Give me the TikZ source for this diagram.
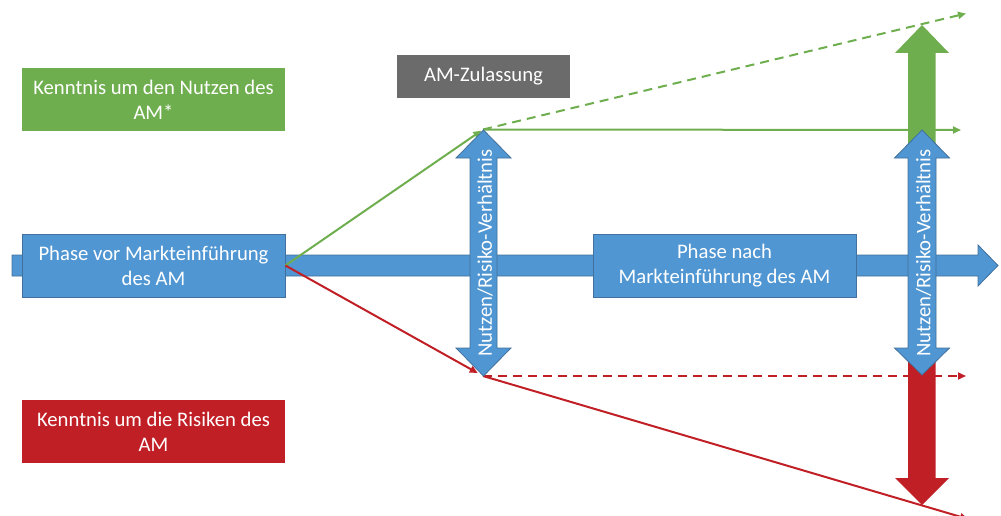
\documentclass[tikz,border=0pt]{standalone}
\usepackage{fontspec}
\setmainfont{Carlito}
\usetikzlibrary{arrows.meta}
\definecolor{bblue}{HTML}{5096D2}
\definecolor{bborder}{HTML}{41719C}
\definecolor{ggreen}{HTML}{6FAE4F}
\definecolor{rred}{HTML}{C11F26}
\definecolor{ggray}{HTML}{6B6B6B}
\tikzset{
  lbl/.style={text=white, align=center, font=\fontsize{20.7}{25}\selectfont, inner sep=0pt},
  box/.style={lbl, minimum width=263pt, minimum height=63pt},
  bluebox/.style={box, fill=bblue, draw=bborder, line width=0.8pt},
  bigarrow/.style={fill=bblue, draw=bborder, line width=0.8pt},
  conn/.style={line width=2pt, -{Triangle[length=8pt,width=7pt]}},
  dashconn/.style={conn, dash pattern=on 9pt off 6pt},
}
\begin{document}
\begin{tikzpicture}[x=1pt,y=-1pt]
\useasboundingbox (0,0) rectangle (1001,516);
% main horizontal arrow
\draw[bigarrow] (12,255) -- (978,255) -- (978,245) -- (998,265.5) -- (978,286) -- (978,276) -- (12,276) -- cycle;
% boxes
\node[bluebox] (vor) at (153.5,265.5) {Phase vor Markteinführung\\des AM};
\node[bluebox] (nach) at (724.5,265.5) {Phase nach\\Markteinführung des AM};
\node[box, fill=ggreen] (nutzen) at (153.5,99.5) {Kenntnis um den Nutzen des\\AM*};
\node[box, fill=rred] (risiken) at (153.5,431.5) {Kenntnis um die Risiken des\\AM};
\node[lbl, fill=ggray, minimum width=173pt, minimum height=43pt] (zul) at (483.5,76.5) {AM-Zulassung};
% key points
\coordinate (gtip) at (483,129.5);
\coordinate (rtip) at (483,376);
\coordinate (gend) at (961,130);
\coordinate (gdash) at (966,13.5);
\coordinate (rdash) at (966,376);
\coordinate (rend) at (968,519);
% right green / red thick arrows
\fill[ggreen] (908,145) -- (908,53) -- (895,53) -- (922,25) -- (949,53) -- (935.5,53) -- (935.5,145) -- cycle;
\fill[rred] (908,358) -- (908,478) -- (895,478) -- (922,505) -- (949,478) -- (935.5,478) -- (935.5,358) -- cycle;
% connectors
\draw[conn, ggreen, shorten >=2pt] (vor.east) -- (gtip);
\draw[conn, rred, shorten >=6pt] (vor.east) -- (rtip);
\draw[conn, ggreen] (gtip) -- (gend);
\draw[dashconn, ggreen] (gtip) -- (gdash);
\draw[dashconn, rred] (rtip) -- (rdash);
\draw[conn, rred] (rtip) -- (rend);
% blue vertical double arrows
\draw[bigarrow] (470,158) -- (456,158) -- (483.5,130) -- (511,158) -- (497,158) -- (497,348) -- (511,348) -- (483.5,376) -- (456,348) -- (470,348) -- cycle;
\node[lbl, rotate=90] (nr1) at (485,253) {Nutzen/Risiko-Verhältnis};
\draw[bigarrow] (908,158) -- (894.5,158) -- (922,130) -- (949.5,158) -- (936,158) -- (936,348) -- (949.5,348) -- (922,375) -- (894.5,348) -- (908,348) -- cycle;
\node[lbl, rotate=90] (nr2) at (923.5,253) {Nutzen/Risiko-Verhältnis};
\end{tikzpicture}
\end{document}
